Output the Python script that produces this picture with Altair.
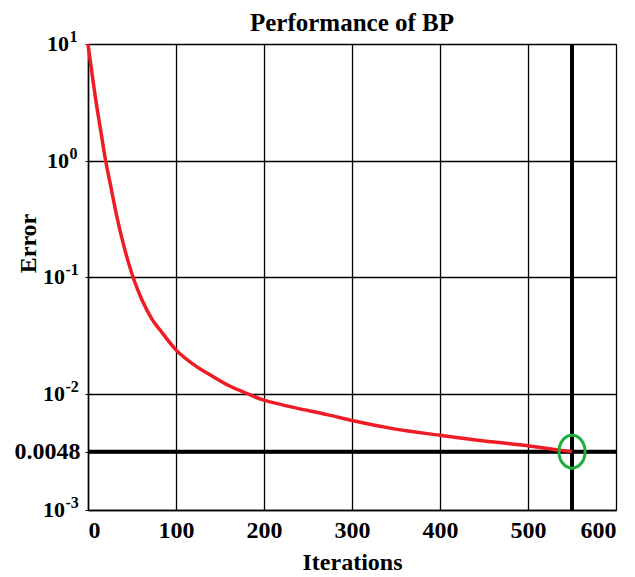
import altair as alt
import pandas as pd

# Curve (iteration, error)
iters = [0, 10, 15, 20, 26, 32, 38, 45, 52, 61, 73, 83, 100, 123, 142, 161, 178, 198,
         220, 236, 273, 300, 348, 400, 443, 500, 538, 550]
errors = [10, 2.9, 1.7, 1.0, 0.593, 0.352, 0.223, 0.141, 0.0957, 0.0645, 0.0431, 0.0342,
          0.0237, 0.0171, 0.0140, 0.0116, 0.0102, 0.00885, 0.00803, 0.00753, 0.00656, 0.00586,
          0.00497, 0.00438, 0.00397, 0.00356, 0.00325, 0.00317]

x_ticks = [0, 100, 200, 300, 400, 500, 600]
marker_iter = 550
marker_level = 0.00317      # where the marked line sits on the drawn axis
marker_label = "0.0048"
pow_values = [0.001, 0.01, 0.1, 1, 10]
pow_bases = ["10", "10", "10", "10", "10"]
pow_exps = ["-3", "-2", "-1", "0", "1"]

FONT = "Liberation Serif"

curve = pd.DataFrame({"it": iters, "err": errors})
hline = pd.DataFrame({"err": [marker_level]})
vline = pd.DataFrame({"it": [marker_iter]})
mark_pt = pd.DataFrame({"it": [marker_iter], "err": [marker_level]})
pows = pd.DataFrame({"v": pow_values, "base": pow_bases, "ex": pow_exps})

y_ticks = pow_values + [marker_level]
label_expr = f"abs(datum.value - {marker_level}) < 1e-6 ? '{marker_label}' : ''"

xscale = alt.Scale(domain=[0, 600], nice=False)
yscale = alt.Scale(type="log", domain=[0.001, 10], nice=False)

xaxis = alt.Axis(values=x_ticks, title="Iterations", grid=True, gridColor="black",
                 gridWidth=1.3, gridOpacity=1, ticks=False, domainColor="black", domainWidth=1.5,
                 labelFont=FONT, labelFontSize=24, labelFontWeight="bold", labelColor="black",
                 labelPadding=8, titleFont=FONT, titleFontSize=24, titleFontWeight="bold",
                 titleColor="black", titlePadding=8)
yaxis = alt.Axis(values=y_ticks, labelExpr=label_expr, title="Error", grid=True, gridColor="black",
                 gridWidth=1.3, gridOpacity=1, tickSize=3, tickColor="black", domainColor="black",
                 domainWidth=1.5, labelFont=FONT, labelFontSize=24, labelFontWeight="bold",
                 labelColor="black", labelPadding=5, titleFont=FONT, titleFontSize=24,
                 titleFontWeight="bold", titleColor="black", titleX=-60, titleY=199,
                 titleAngle=-90, titleAlign="center", titleBaseline="middle")

line = alt.Chart(curve).mark_line(color="#ee1c25", strokeWidth=3.5, interpolate="monotone").encode(
    x=alt.X("it:Q", scale=xscale, axis=xaxis),
    y=alt.Y("err:Q", scale=yscale, axis=yaxis),
)
h = alt.Chart(hline).mark_rule(color="black", strokeWidth=4).encode(y=alt.Y("err:Q", scale=yscale))
v = alt.Chart(vline).mark_rule(color="black", strokeWidth=4).encode(x=alt.X("it:Q", scale=xscale))
ell = alt.Chart(mark_pt).mark_point(
    shape="M -0.79 0 A 0.79 1 0 1 1 0.79 0 A 0.79 1 0 1 1 -0.79 0 Z",
    size=1089, filled=False, color="#1fae3e", strokeWidth=3, opacity=1,
).encode(x=alt.X("it:Q", scale=xscale), y=alt.Y("err:Q", scale=yscale))

base_txt = alt.Chart(pows).transform_calculate(
    px="length(datum.ex) > 1 ? -23 : -19"
).mark_text(font=FONT, fontSize=22, fontWeight="bold", color="black", align="right",
            baseline="middle").encode(
    x=alt.X("px:Q", scale=None), y=alt.Y("v:Q", scale=yscale), text="base:N")
exp_txt = alt.Chart(pows).transform_calculate(
    px="length(datum.ex) > 1 ? -22.5 : -18.5"
).mark_text(font=FONT, fontSize=16, fontWeight="bold", color="black", align="left",
            baseline="middle", dy=-7).encode(
    x=alt.X("px:Q", scale=None), y=alt.Y("v:Q", scale=yscale), text="ex:N")

chart = alt.layer(h, v, line, ell, base_txt, exp_txt).properties(
    width=528, height=466,
    title=alt.TitleParams("Performance of BP", font=FONT, fontSize=25, fontWeight="bold",
                          color="black", anchor="middle", offset=-7),
    autosize=alt.AutoSizeParams(type="none"),
    padding={"left": 80, "top": 36, "right": 10, "bottom": 67},
).configure_view(stroke="black", strokeWidth=1.5).configure(background="white")

chart.save("out.html", embed_options={"renderer": "svg", "actions": False})
